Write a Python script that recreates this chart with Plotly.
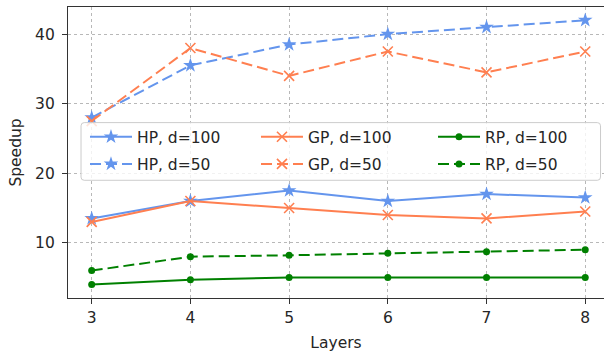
import plotly.graph_objects as go

layers = [3, 4, 5, 6, 7, 8]

hp_d100 = [13.5, 16.0, 17.5, 16.0, 17.0, 16.5]
hp_d50 = [28.0, 35.5, 38.5, 40.0, 41.0, 42.0]
gp_d100 = [13.0, 16.0, 15.0, 14.0, 13.5, 14.5]
gp_d50 = [27.5, 38.0, 34.0, 37.5, 34.5, 37.5]
rp_d100 = [4.0, 4.7, 5.0, 5.0, 5.0, 5.0]
rp_d50 = [6.0, 8.0, 8.2, 8.5, 8.7, 9.0]

BLUE = "#6495ED"
CORAL = "#FF7F50"
GREEN = "#008000"
DASH = "11px,5px"

series = [
    # name, values, colour, dash, symbol, marker size, legend column
    ("HP, d=100", hp_d100, BLUE, "solid", "star", 11, "legend"),
    ("HP, d=50", hp_d50, BLUE, DASH, "star", 11, "legend"),
    ("GP, d=100", gp_d100, CORAL, "solid", "x-thin", 10, "legend2"),
    ("GP, d=50", gp_d50, CORAL, DASH, "x-thin", 10, "legend2"),
    ("RP, d=100", rp_d100, GREEN, "solid", "circle", 7, "legend3"),
    ("RP, d=50", rp_d50, GREEN, DASH, "circle", 7, "legend3"),
]

fig = go.Figure()
for name, vals, col, dash, sym, msize, leg in series:
    fig.add_trace(go.Scatter(
        x=layers, y=vals, name=name, mode="lines+markers",
        line=dict(color=col, width=2, dash=dash),
        marker=dict(symbol=sym, size=msize, color=col,
                    line=dict(color=col, width=1.6 if sym == "x-thin" else 0)),
        legend=leg, legendgroup=name,
    ))

font = dict(family="DejaVu Sans", size=15.5, color="#262626")


def column_legend(x):
    return dict(
        orientation="v", x=x, y=0.611, xanchor="left", yanchor="top",
        bgcolor="rgba(0,0,0,0)", borderwidth=0, font=font,
        traceorder="grouped", tracegroupgap=4, itemwidth=42,
    )


# shared frame behind the three legend columns (rounded corners)
x0, x1, y0, y1 = 0.0243, 0.9935, 0.4045, 0.6027
rx, ry = 0.006, 0.011
frame = (
    f"M{x0 + rx},{y0} L{x1 - rx},{y0} Q{x1},{y0} {x1},{y0 + ry} "
    f"L{x1},{y1 - ry} Q{x1},{y1} {x1 - rx},{y1} "
    f"L{x0 + rx},{y1} Q{x0},{y1} {x0},{y1 - ry} "
    f"L{x0},{y0 + ry} Q{x0},{y0} {x0 + rx},{y0} Z"
)

fig.update_layout(
    width=604, height=358,
    margin=dict(l=68, r=0, t=7, b=60),
    plot_bgcolor="white", paper_bgcolor="white",
    font=font,
    showlegend=True,
    legend=column_legend(0.0317),
    legend2=column_legend(0.3507),
    legend3=column_legend(0.681),
    shapes=[dict(
        type="path", path=frame, xref="paper", yref="paper", layer="above",
        fillcolor="rgba(255,255,255,0.8)", line=dict(color="#cccccc", width=1),
    )],
    xaxis=dict(
        range=[2.76, 8.19], tickvals=layers, ticktext=[str(v) for v in layers],
        showline=True, linecolor="#333333", linewidth=1.2, mirror=True,
        ticks="outside", ticklen=5, tickcolor="#333333",
        showgrid=True, gridcolor="#b8b8b8", griddash="dot", gridwidth=0.8,
        zeroline=False,
        title=dict(text="Layers", font=font, standoff=11),
    ),
    yaxis=dict(
        range=[2.06, 43.9], tickvals=[10, 20, 30, 40],
        showline=True, linecolor="#333333", linewidth=1.2, mirror=False,
        ticks="outside", ticklen=5, tickcolor="#333333", ticklabelstandoff=4,
        showgrid=True, gridcolor="#b8b8b8", griddash="dot", gridwidth=0.8,
        zeroline=False,
        title=dict(text="Speedup", font=font, standoff=9),
    ),
)

fig.write_html("out.html")
